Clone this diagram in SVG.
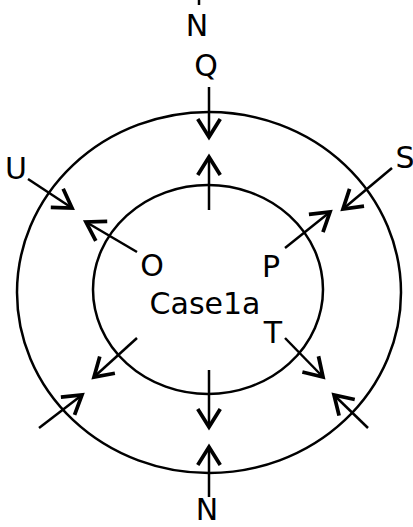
<svg xmlns="http://www.w3.org/2000/svg" width="413" height="527" viewBox="0 0 413 527">
<style>
.ring{fill:none;stroke:#000;stroke-width:2.5}
.c line{stroke:#000;stroke-width:2.5;marker-end:url(#ah)}
.c line.plain{marker-end:none}
text{font-family:"DejaVu Sans",Verdana,sans-serif;font-size:30px;fill:#000}
</style>
<defs>
<marker id="ah" markerUnits="userSpaceOnUse" markerWidth="30" markerHeight="30" viewBox="-16 -10 20 20" refX="0" refY="0" orient="auto">
<path d="M-12,-7.5 L0,0 L-12,7.5" fill="none" stroke="#000" stroke-width="2.5"/>
</marker>
</defs>
<g id="outer"><ellipse class="ring" cx="209" cy="292.5" rx="192" ry="180.5"/></g>
<g id="inner"><ellipse class="ring" cx="208" cy="289.5" rx="115" ry="104.5"/></g>
<g class="c" id="connectors">
<line class="plain" x1="199" y1="0" x2="199" y2="5"/>
<line x1="209" y1="87" x2="209" y2="137"/>
<line x1="209" y1="210" x2="209" y2="157"/>
<line x1="28" y1="179" x2="72" y2="208"/>
<line x1="137" y1="252" x2="86" y2="222"/>
<line x1="285" y1="248" x2="330" y2="212"/>
<line x1="392" y1="168" x2="343" y2="209"/>
<line x1="137" y1="338" x2="94" y2="377"/>
<line x1="285" y1="338" x2="323" y2="377"/>
<line x1="209" y1="370" x2="209" y2="427"/>
<line x1="39" y1="428" x2="82" y2="395"/>
<line x1="368" y1="428" x2="334" y2="395"/>
<line x1="209" y1="497" x2="209" y2="447"/>
</g>
<g id="labels">
<text x="197" y="36" text-anchor="middle">N</text>
<text x="206" y="76" text-anchor="middle">Q</text>
<text x="16" y="179" text-anchor="middle">U</text>
<text x="405" y="168" text-anchor="middle">S</text>
<text x="152" y="276" text-anchor="middle">O</text>
<text x="271" y="277" text-anchor="middle">P</text>
<text x="205" y="314" text-anchor="middle">Case1a</text>
<text x="273" y="343" text-anchor="middle">T</text>
<text x="207" y="520" text-anchor="middle">N</text>
</g>
</svg>
